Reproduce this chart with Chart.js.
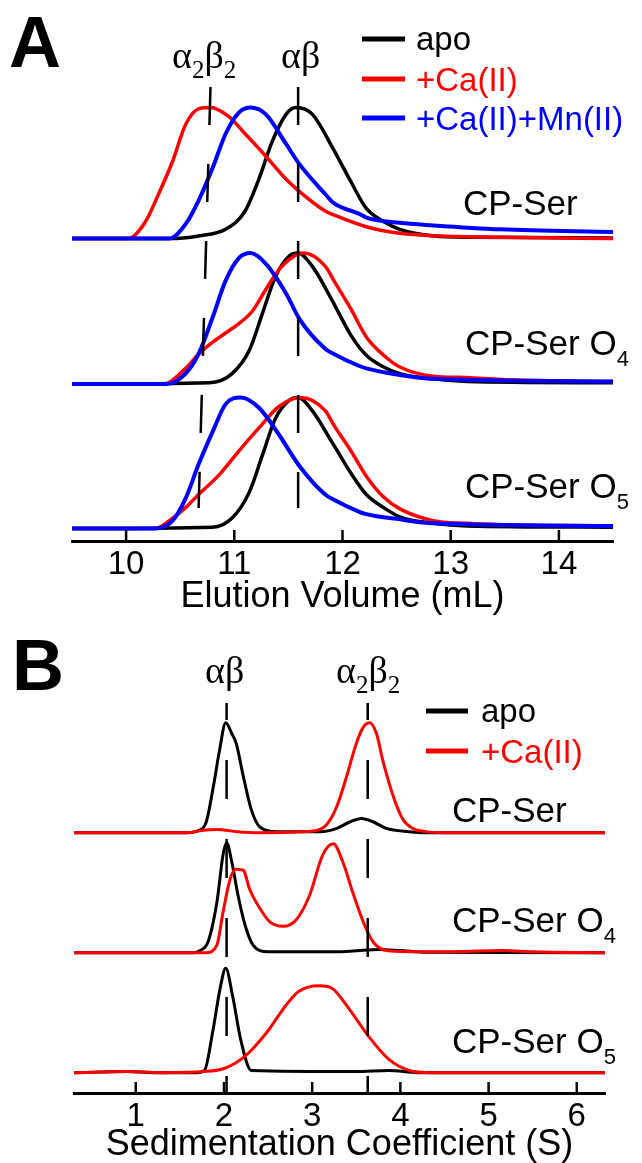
<!DOCTYPE html>
<html>
<head>
<meta charset="utf-8">
<script src="https://cdn.jsdelivr.net/npm/chart.js@4.4.1/dist/chart.umd.min.js"></script>
<style>
body{margin:0;background:#fff;}
#wrapA{position:absolute;left:0;top:0;width:642px;height:620px;}
#wrapB{position:absolute;left:0;top:620px;width:642px;height:543px;}
</style>
</head>
<body>
<div id="wrapA"><canvas id="chartA" width="642" height="620"></canvas></div>
<div id="wrapB"><canvas id="chartB" width="642" height="543"></canvas></div>
<script>
// ---- panel A : elution volume (mL) vs normalised absorbance ----
var ticksA = [10, 11, 12, 13, 14];
var serApo = [[9.5,0],[10.4,0],[10.67,0.02],[10.92,0.07],[11.10,0.21],[11.23,0.46],[11.35,0.74],[11.48,0.95],[11.57,1.0],[11.72,0.95],[11.91,0.69],[12.08,0.43],[12.22,0.23],[12.38,0.13],[12.53,0.07],[12.84,0.02],[13.2,0.01],[14.5,0.005]];
var serCa = [[9.5,0],[10.02,0],[10.18,0.13],[10.30,0.34],[10.43,0.59],[10.55,0.87],[10.67,0.99],[10.78,1.0],[10.95,0.93],[11.10,0.80],[11.29,0.63],[11.47,0.46],[11.60,0.36],[11.84,0.21],[11.92,0.18],[12.22,0.09],[12.53,0.04],[12.9,0.02],[13.5,0.01],[14.5,0.0]];
var serMn = [[9.5,0],[10.4,0],[10.55,0.11],[10.67,0.29],[10.80,0.54],[10.92,0.80],[11.04,0.96],[11.15,1.0],[11.29,0.95],[11.48,0.72],[11.60,0.57],[11.84,0.34],[11.92,0.27],[12.15,0.19],[12.22,0.16],[12.53,0.12],[12.84,0.10],[13.46,0.07],[14.5,0.05]];
var o4Apo = [[9.5,0],[10.77,0.01],[10.98,0.08],[11.14,0.26],[11.26,0.54],[11.38,0.82],[11.51,0.98],[11.59,1.0],[11.72,0.9],[11.91,0.63],[12.08,0.37],[12.22,0.22],[12.38,0.13],[12.53,0.08],[12.84,0.04],[13.15,0.02],[14.5,0.01]];
var o4Ca = [[9.5,0],[10.35,0],[10.55,0.12],[10.67,0.23],[10.80,0.32],[10.92,0.39],[11.04,0.46],[11.17,0.56],[11.29,0.72],[11.41,0.87],[11.54,0.97],[11.64,1.0],[11.84,0.90],[11.92,0.79],[12.08,0.57],[12.22,0.36],[12.38,0.22],[12.53,0.13],[12.84,0.06],[13.15,0.05],[13.46,0.035],[14.5,0.02]];
var o4Mn = [[9.5,0],[10.37,0],[10.55,0.08],[10.67,0.23],[10.80,0.51],[10.92,0.79],[11.04,0.96],[11.15,1.0],[11.29,0.92],[11.48,0.69],[11.60,0.50],[11.84,0.27],[11.92,0.23],[12.15,0.14],[12.22,0.12],[12.53,0.07],[12.84,0.04],[14.5,0.02]];
var o5Apo = [[9.5,0],[10.8,0.01],[10.98,0.08],[11.14,0.28],[11.26,0.56],[11.38,0.84],[11.51,0.98],[11.59,1.0],[11.72,0.9],[11.91,0.65],[12.08,0.42],[12.22,0.26],[12.38,0.16],[12.53,0.09],[12.84,0.04],[13.15,0.02],[14.5,0.01]];
var o5Ca = [[9.5,0],[10.27,0],[10.43,0.08],[10.55,0.16],[10.67,0.26],[10.86,0.41],[11.04,0.59],[11.23,0.77],[11.41,0.93],[11.61,1.0],[11.84,0.9],[11.92,0.79],[12.08,0.59],[12.22,0.40],[12.38,0.24],[12.53,0.15],[12.84,0.06],[13.15,0.04],[13.46,0.03],[14.5,0.02]];
var o5Mn = [[9.5,0],[10.27,0],[10.43,0.06],[10.55,0.23],[10.67,0.49],[10.80,0.74],[10.92,0.95],[11.06,1.0],[11.23,0.92],[11.41,0.72],[11.60,0.48],[11.84,0.26],[11.92,0.22],[12.15,0.13],[12.22,0.11],[12.53,0.07],[12.84,0.04],[14.5,0.02]];

// ---- panel B : sedimentation coefficient (S) ----
var ticksB = [1, 2, 3, 4, 5, 6];
var bSerApo = [[0.3,0],[1.57,0],[1.71,0.02],[1.80,0.10],[1.88,0.42],[1.95,0.75],[2.02,1.0],[2.09,0.9],[2.14,0.81],[2.22,0.51],[2.31,0.21],[2.41,0.05],[2.6,0.01],[3.09,0.01],[3.28,0.04],[3.43,0.10],[3.56,0.13],[3.69,0.10],[3.84,0.04],[4.1,0.01],[4.3,0],[6.32,0]];
var bSerCa = [[0.3,0],[1.6,0],[1.75,0.02],[1.92,0.03],[2.15,0.01],[2.4,0],[3.01,0.015],[3.16,0.07],[3.28,0.24],[3.39,0.51],[3.50,0.81],[3.58,0.96],[3.65,1.0],[3.73,0.9],[3.80,0.66],[3.92,0.33],[4.03,0.12],[4.14,0.04],[4.29,0.01],[4.5,0],[6.32,0]];
var bO4Apo = [[0.3,0],[1.65,0],[1.73,0.02],[1.82,0.10],[1.92,0.46],[1.99,0.89],[2.03,1.0],[2.09,0.82],[2.16,0.52],[2.24,0.25],[2.33,0.07],[2.5,0.01],[3.3,0.01],[3.46,0.015],[3.76,0.03],[4.0,0.02],[4.3,0.005],[6.32,0]];
var bO4Ca = [[0.3,0],[1.79,0],[1.92,0.07],[1.99,0.37],[2.07,0.67],[2.13,0.76],[2.22,0.75],[2.29,0.58],[2.41,0.40],[2.52,0.28],[2.67,0.24],[2.82,0.30],[2.97,0.52],[3.12,0.89],[3.24,0.99],[3.35,0.82],[3.46,0.55],[3.58,0.28],[3.69,0.10],[3.84,0.02],[4.1,0.01],[4.6,0.01],[5.15,0.02],[5.5,0.01],[6.32,0]];
var bO5Apo = [[0.3,0],[0.9,0.01],[1.2,0],[1.69,0],[1.78,0.02],[1.87,0.36],[1.96,0.78],[2.02,0.95],[2.10,0.69],[2.19,0.30],[2.31,0.02],[3.5,0.01],[3.87,0.02],[4.2,0],[6.32,0]];
var bO5Ca = [[0.3,0],[0.9,0.01],[1.3,0],[1.78,0.01],[2.01,0.04],[2.24,0.15],[2.48,0.36],[2.71,0.62],[2.85,0.74],[3.08,0.79],[3.22,0.77],[3.40,0.60],[3.64,0.33],[3.87,0.12],[4.10,0.02],[4.35,0],[6.32,0]];

// vertical stacking of the traces (CP-Ser, O4, O5)
var offsA = [2.309, 1.198, 0.095];
var offsB = [2.366, 1.275, 0.185];

var BLACK = '#000000', RED = '#ff0000', BLUE = '#0000ff';
var SANS = '"Liberation Sans", Arial, sans-serif';
var SERIF = '"Liberation Serif", "Times New Roman", serif';

function shift(pts, dy) {
    return pts.map(function(p) { return {x: p[0], y: p[1] + dy}; });
}
function trace(pts, dy, color, w) {
    return {data: shift(pts, dy), borderColor: color, borderWidth: w, pointRadius: 0,
            fill: false, cubicInterpolationMode: 'monotone'};
}

function drawRich(ctx, parts, x, y, color) {
    ctx.fillStyle = color || '#000';
    ctx.textAlign = 'left';
    ctx.textBaseline = 'alphabetic';
    parts.forEach(function(p) {
        ctx.font = (p.bold ? 'bold ' : '') + p.size + 'px ' + (p.serif ? SERIF : SANS);
        ctx.fillText(p.t, x, y + (p.dy || 0));
        x += ctx.measureText(p.t).width;
    });
}

// inside ticks, dashed guide lines, legend and labels
var extras = {
    id: 'extras',
    afterDraw: function(chart, args, o) {
        var ctx = chart.ctx, xs = chart.scales.x, ys = chart.scales.y;
        ctx.save();
        ctx.strokeStyle = '#000';
        ctx.lineWidth = 2.5;
        o.ticks.forEach(function(v) {
            var px = xs.getPixelForValue(v);
            ctx.beginPath();
            ctx.moveTo(px, ys.bottom);
            ctx.lineTo(px, ys.bottom - 11);
            ctx.stroke();
        });
        ctx.setLineDash(o.dash);
        ctx.lineDashOffset = o.dashOffset;
        o.markers.forEach(function(m) {
            ctx.beginPath();
            ctx.moveTo(xs.getPixelForValue(m[0]), ys.getPixelForValue(o.markTop));
            ctx.lineTo(xs.getPixelForValue(m[1]), ys.getPixelForValue(o.markBottom));
            ctx.stroke();
        });
        ctx.setLineDash([]);
        ctx.lineWidth = 5;
        o.legend.forEach(function(l) {
            ctx.strokeStyle = l.color;
            ctx.beginPath();
            ctx.moveTo(o.legX[0], l.y);
            ctx.lineTo(o.legX[1], l.y);
            ctx.stroke();
            drawRich(ctx, [{t: l.text, size: 33}], o.legX[2], l.ty, l.color);
        });
        o.texts.forEach(function(t) { drawRich(ctx, t.parts, t.x, t.y); });
        ctx.restore();
    }
};

function sub(t) { return {t: t, size: 22, dy: 11}; }
function greek(t) { return {t: t, size: 38, serif: true}; }
function gsub(t) { return {t: t, size: 25, serif: true, dy: 10}; }

function axisX(min, max, ticks, title, h, titlePad) {
    return {
        type: 'linear', min: min, max: max,
        afterBuildTicks: function(s) { s.ticks = ticks.map(function(v) { return {value: v}; }); },
        afterFit: function(s) { s.height = h; },
        grid: {display: false, drawTicks: false},
        border: {display: true, color: '#000', width: 3},
        ticks: {color: '#000', padding: 4, maxRotation: 0, autoSkip: false,
                font: {family: SANS, size: 33}},
        title: {display: true, text: title, color: '#000', padding: {top: 0, bottom: titlePad},
                font: {family: SANS, size: 36, lineHeight: 1}}
    };
}

Chart.defaults.animation = false;

var chartA = new Chart(document.getElementById('chartA'), {
    type: 'line',
    data: {datasets: [
        trace(serMn, offsA[0], BLUE, 4), trace(serCa, offsA[0], RED, 3.5), trace(serApo, offsA[0], BLACK, 3.5),
        trace(o4Mn, offsA[1], BLUE, 4), trace(o4Ca, offsA[1], RED, 3.5), trace(o4Apo, offsA[1], BLACK, 3.5),
        trace(o5Mn, offsA[2], BLUE, 4), trace(o5Ca, offsA[2], RED, 3.5), trace(o5Apo, offsA[2], BLACK, 3.5)
    ]},
    options: {
        responsive: false, devicePixelRatio: 1,
        layout: {padding: {left: 72, right: 29, top: 0, bottom: 0}},
        scales: {
            x: axisX(9.5, 14.5, ticksA, 'Elution Volume (mL)', 79, 5),
            y: {display: false, min: 0, max: 4.13}
        },
        plugins: {
            legend: {display: false}, tooltip: {enabled: false},
            extras: {
                ticks: ticksA,
                markers: [[10.78, 10.67], [11.59, 11.59]],
                markTop: 3.466, markBottom: 0.252, dash: [38, 39], dashOffset: 0,
                legX: [362, 405, 416],
                legend: [
                    {text: 'apo', color: BLACK, y: 39, ty: 50},
                    {text: '+Ca(II)', color: RED, y: 79, ty: 91},
                    {text: '+Ca(II)+Mn(II)', color: BLUE, y: 118, ty: 130}
                ],
                texts: [
                    {x: 9, y: 67, parts: [{t: 'A', size: 72, bold: true}]},
                    {x: 172, y: 68, parts: [greek('α'), gsub('2'), greek('β'), gsub('2')]},
                    {x: 281, y: 68, parts: [greek('αβ')]},
                    {x: 463, y: 215, parts: [{t: 'CP-Ser', size: 35}]},
                    {x: 465, y: 355, parts: [{t: 'CP-Ser O', size: 35}, sub('4')]},
                    {x: 465, y: 498, parts: [{t: 'CP-Ser O', size: 35}, sub('5')]}
                ]
            }
        }
    },
    plugins: [extras]
});

var chartB = new Chart(document.getElementById('chartB'), {
    type: 'line',
    data: {datasets: [
        trace(bSerCa, offsB[0], RED, 3), trace(bSerApo, offsB[0], BLACK, 3),
        trace(bO4Ca, offsB[1], RED, 3), trace(bO4Apo, offsB[1], BLACK, 3),
        trace(bO5Ca, offsB[2], RED, 3), trace(bO5Apo, offsB[2], BLACK, 3)
    ]},
    options: {
        responsive: false, devicePixelRatio: 1,
        layout: {padding: {left: 74, right: 37, top: 0, bottom: 0}},
        scales: {
            x: axisX(0.3, 6.32, ticksB, 'Sedimentation Coefficient (S)', 70, 0),
            y: {display: false, min: 0, max: 4.3}
        },
        plugins: {
            legend: {display: false}, tooltip: {enabled: false},
            extras: {
                ticks: ticksB,
                markers: [[2.03, 2.03], [3.63, 3.63]],
                markTop: 3.545, markBottom: 0, dash: [39, 40], dashOffset: 22,
                legX: [426, 468, 481],
                legend: [
                    {text: 'apo', color: BLACK, y: 91, ty: 102},
                    {text: '+Ca(II)', color: RED, y: 131, ty: 143}
                ],
                texts: [
                    {x: 12, y: 70, parts: [{t: 'B', size: 72, bold: true}]},
                    {x: 205, y: 63, parts: [greek('αβ')]},
                    {x: 336, y: 63, parts: [greek('α'), gsub('2'), greek('β'), gsub('2')]},
                    {x: 452, y: 202, parts: [{t: 'CP-Ser', size: 35}]},
                    {x: 452, y: 312, parts: [{t: 'CP-Ser O', size: 35}, sub('4')]},
                    {x: 452, y: 433, parts: [{t: 'CP-Ser O', size: 35}, sub('5')]}
                ]
            }
        }
    },
    plugins: [extras]
});
</script>
</body>
</html>
